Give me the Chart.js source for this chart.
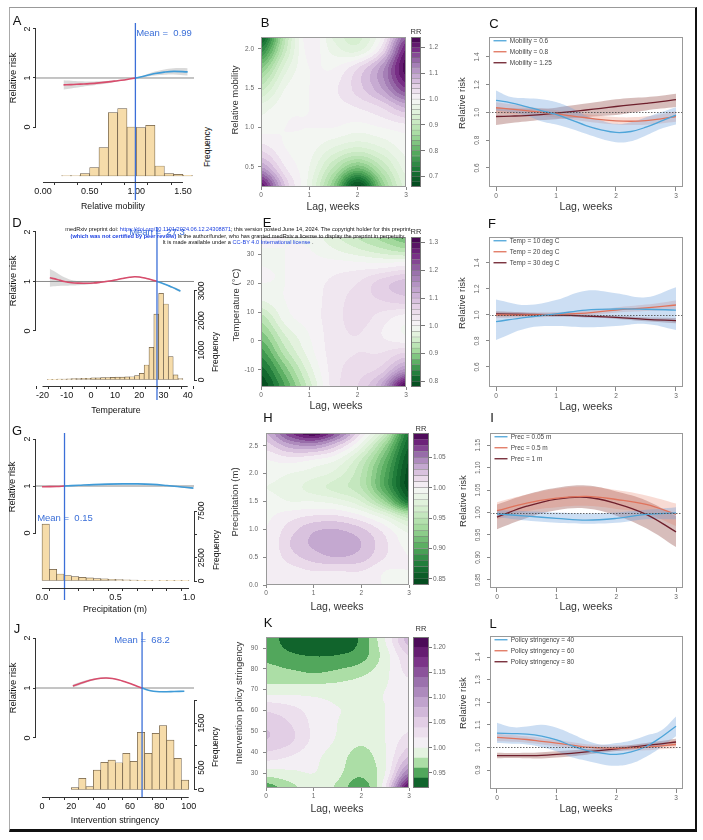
<!DOCTYPE html>
<html>
<head>
<meta charset="utf-8">
<title>Relative risk by exposure and lag</title>
<script src="https://cdn.jsdelivr.net/npm/chart.js@4.4.1/dist/chart.umd.min.js"></script>
<style>
  body { margin: 0; background: #fff; }
  #fig { position: relative; width: 703px; height: 840px; overflow: hidden; background: #fff;
         font-family: "Liberation Sans", Arial, sans-serif; }
  #frame { position: absolute; left: 9px; top: 7px; width: 685px; height: 821px;
           border-top: 1.5px solid #999; border-left: 1px solid #aaa;
           border-right: 2px solid #111; border-bottom: 3px solid #111; }
  .cv { position: absolute; }
  .t { position: absolute; white-space: pre; transform: translate(-50%, -50%); line-height: 1; }
  .r { transform: translate(-50%, -50%) rotate(-90deg); }
  .lk { color: #1a3fe0; }
  .b { font-weight: bold; }
</style>
</head>
<body>
<div id="fig"><div id="frame"></div></div>
<script>
'use strict';

// ---------- data: exposure-response (left column) ----------
const rrTicks = [0, 1, 2];

const mobX = [0.22, 0.3, 0.4, 0.5, 0.6, 0.7, 0.8, 0.9, 0.99, 1.1, 1.2, 1.3, 1.4, 1.55];
const mobRR = [0.86, 0.865, 0.875, 0.885, 0.9, 0.92, 0.945, 0.97, 1.0, 1.045, 1.09, 1.12, 1.135, 1.125];
const mobLo = [0.765, 0.785, 0.815, 0.84, 0.865, 0.895, 0.93, 0.963, 1.0, 1.025, 1.05, 1.065, 1.07, 1.05];
const mobHi = [0.955, 0.945, 0.935, 0.93, 0.935, 0.945, 0.96, 0.977, 1.0, 1.065, 1.13, 1.175, 1.2, 1.2];
const mobMean = 0.99;
const mobBins = [0.25, 0.35, 0.45, 0.55, 0.65, 0.75, 0.85, 0.95, 1.05, 1.15, 1.25, 1.35, 1.45, 1.55];
const mobFreq = [3, 3, 23, 83, 283, 633, 673, 490, 483, 507, 100, 23, 17, 7];
const mobTicks = [0, 0.25, 0.5, 0.75, 1, 1.25, 1.5];
const mobTickLabels = ['0.00', '', '0.50', '', '1.00', '', '1.50'];

const tempX = [-17, -14, -11, -8, -5, -2, 1, 4, 7, 10, 13, 16, 18, 20, 23, 25, 27.3, 30, 33, 35, 37];
const tempRR = [1.075, 1.04, 1.0, 0.975, 0.966, 0.965, 0.97, 0.985, 1.005, 1.03, 1.06, 1.085, 1.095, 1.09, 1.06, 1.035, 1.0, 0.955, 0.895, 0.855, 0.805];
const tempLo = [0.895, 0.91, 0.915, 0.92, 0.926, 0.935, 0.948, 0.968, 0.991, 1.018, 1.048, 1.073, 1.083, 1.08, 1.052, 1.03, 1.0, 0.947, 0.88, 0.835, 0.78];
const tempHi = [1.255, 1.17, 1.085, 1.03, 1.006, 0.995, 0.992, 1.002, 1.019, 1.042, 1.072, 1.097, 1.107, 1.1, 1.068, 1.04, 1.0, 0.963, 0.91, 0.875, 0.83];
const tempMean = 27.3;
const tempBins = [-17, -15, -13, -11, -9, -7, -5, -3, -1, 1, 3, 5, 7, 9, 11, 13, 15, 17, 19, 21, 23, 25, 27, 29, 31, 33, 35, 37];
const tempFreq = [20, 25, 30, 35, 40, 45, 50, 55, 60, 70, 75, 80, 85, 90, 95, 100, 105, 110, 145, 225, 505, 1100, 2220, 2920, 2560, 785, 170, 45];
const tempTicks = [-20, -15, -10, -5, 0, 5, 10, 15, 20, 25, 30, 35, 40];
const tempTickLabels = ['-20', '', '-10', '', '0', '', '10', '', '20', '', '30', '', '40'];
const tempFreqTicks = [0, 1000, 2000, 3000];
const tempFreqLabels = ['0', '1000', '2000', '3000'];

const precX = [0, 0.05, 0.1, 0.153, 0.25, 0.35, 0.45, 0.55, 0.65, 0.75, 0.85, 0.95, 1.03];
const precRR = [0.985, 0.986, 0.99, 1.0, 1.015, 1.03, 1.04, 1.045, 1.045, 1.035, 1.01, 0.98, 0.955];
const precLo = [0.98, 0.982, 0.988, 1.0, 1.012, 1.025, 1.033, 1.037, 1.036, 1.025, 0.998, 0.965, 0.935];
const precHi = [0.99, 0.99, 0.992, 1.0, 1.018, 1.035, 1.047, 1.053, 1.054, 1.045, 1.022, 0.995, 0.975];
const precMean = 0.153;
const precBins = [0.025, 0.075, 0.125, 0.175, 0.225, 0.275, 0.325, 0.375, 0.425, 0.475, 0.525, 0.575, 0.625, 0.675, 0.725, 0.775, 0.825, 0.875, 0.925, 0.975];
const precFreq = [6100, 1250, 750, 570, 470, 400, 330, 260, 220, 180, 150, 120, 100, 80, 65, 50, 40, 35, 30, 25];
const precTicks = [0, 0.1, 0.2, 0.3, 0.4, 0.5, 0.6, 0.7, 0.8, 0.9, 1.0];
const precTickLabels = ['0.0', '', '', '', '', '0.5', '', '', '', '', '1.0'];
const precFreqTicks = [0, 2500, 5000, 7500];
const precFreqLabels = ['0', '2500', '', '7500'];

const strX = [21, 25, 30, 35, 40, 44, 48, 52, 56, 60, 64, 68.2, 72, 76, 80, 85, 90, 97];
const strRR = [1.04, 1.08, 1.13, 1.17, 1.195, 1.2, 1.19, 1.165, 1.13, 1.09, 1.045, 1.0, 0.96, 0.935, 0.925, 0.925, 0.93, 0.935];
const strLo = [1.01, 1.052, 1.106, 1.15, 1.179, 1.187, 1.18, 1.157, 1.124, 1.086, 1.043, 1.0, 0.957, 0.93, 0.918, 0.917, 0.92, 0.923];
const strHi = [1.07, 1.108, 1.154, 1.19, 1.211, 1.213, 1.2, 1.173, 1.136, 1.094, 1.047, 1.0, 0.963, 0.94, 0.932, 0.933, 0.94, 0.947];
const strMean = 68.2;
const strBins = [22.5, 27.5, 32.5, 37.5, 42.5, 47.5, 52.5, 57.5, 62.5, 67.5, 72.5, 77.5, 82.5, 87.5, 92.5, 97.5];
const strFreq = [52, 262, 74, 448, 621, 672, 612, 822, 643, 1293, 822, 1271, 1442, 1121, 710, 224];
const strTicks = [0, 10, 20, 30, 40, 50, 60, 70, 80, 90, 100];
const strTickLabels = ['0', '', '20', '', '40', '', '60', '', '80', '', '100'];
const strFreqTicks = [0, 500, 1000, 1500, 2000];
const strFreqLabels = ['0', '500', '', '1500', ''];

// ---------- data: lag-exposure surfaces (middle column) ----------
const lagCols = [0, 0.5, 1, 1.5, 2, 2.5, 3];
const lagTicks = [0, 1, 2, 3];

const mobRows = [0.25, 0.5, 0.75, 1.0, 1.25, 1.5, 1.75, 2.0, 2.25];
const mobGrid = [
  [1.22, 1.06, 0.97, 0.84, 0.67, 0.84, 0.95],
  [1.10, 1.02, 0.98, 0.90, 0.83, 0.90, 0.97],
  [1.03, 1.0, 0.99, 0.96, 0.94, 0.96, 0.99],
  [0.99, 1.0, 1.0, 1.0, 0.99, 1.0, 1.01],
  [0.97, 0.995, 1.0, 1.01, 1.02, 1.04, 1.08],
  [0.91, 0.98, 1.0, 1.015, 1.05, 1.10, 1.18],
  [0.84, 0.95, 1.0, 1.0, 1.04, 1.11, 1.23],
  [0.74, 0.91, 1.01, 0.97, 0.95, 1.03, 1.20],
  [0.66, 0.89, 1.02, 0.95, 0.93, 0.99, 1.13]
];
const mobYTicks = [0.5, 1.0, 1.5, 2.0];
const mobBarTicks = [0.7, 0.8, 0.9, 1.0, 1.1, 1.2];

const tempRows = [-16, -10, -4, 2, 8, 14, 20, 26, 32, 38];
const tempGrid = [
  [0.78, 0.86, 0.95, 1.03, 1.06, 1.13, 1.32],
  [0.81, 0.89, 0.97, 1.03, 1.05, 1.07, 1.15],
  [0.85, 0.93, 0.99, 1.03, 1.04, 1.04, 1.06],
  [0.89, 0.96, 1.0, 1.03, 1.04, 1.02, 1.0],
  [0.93, 0.99, 1.01, 1.03, 1.05, 1.03, 1.01],
  [0.98, 1.0, 1.01, 1.03, 1.05, 1.06, 1.07],
  [1.0, 1.0, 1.01, 1.025, 1.04, 1.07, 1.09],
  [1.0, 1.0, 1.005, 1.01, 1.01, 1.01, 1.02],
  [1.0, 1.0, 1.0, 0.98, 0.96, 0.94, 0.92],
  [1.0, 1.0, 0.99, 0.96, 0.93, 0.90, 0.87]
];
const tempYTicks = [-10, 0, 10, 20, 30];
const tempBarTicks = [0.8, 0.9, 1.0, 1.1, 1.2, 1.3];

const precRows = [0, 0.25, 0.5, 0.75, 1.0, 1.25, 1.5, 1.75, 2.0, 2.25, 2.5, 2.75];
const precGrid = [
  [1.0, 1.0, 1.0, 1.0, 1.0, 1.0, 1.0],
  [1.0, 1.005, 1.01, 1.01, 1.01, 1.0, 1.0],
  [1.0, 1.015, 1.025, 1.03, 1.025, 1.01, 1.0],
  [1.0, 1.02, 1.032, 1.036, 1.03, 1.012, 0.995],
  [1.0, 1.015, 1.028, 1.03, 1.022, 1.005, 0.985],
  [0.998, 1.005, 1.01, 1.01, 1.0, 0.98, 0.95],
  [0.995, 0.99, 0.99, 0.985, 0.97, 0.93, 0.87],
  [0.99, 0.985, 0.975, 0.965, 0.95, 0.9, 0.845],
  [0.995, 0.99, 0.985, 0.975, 0.95, 0.9, 0.845],
  [1.0, 1.005, 1.0, 0.99, 0.96, 0.91, 0.85],
  [1.015, 1.035, 1.04, 1.02, 0.985, 0.93, 0.86],
  [1.03, 1.07, 1.09, 1.06, 1.01, 0.96, 0.87]
];
const precYTicks = [0, 0.5, 1.0, 1.5, 2.0, 2.5];
const precBarTicks = [0.85, 0.90, 0.95, 1.00, 1.05];

const strRows = [22, 30, 38, 46, 54, 62, 70, 78, 86, 94];
const strGrid = [
  [0.945, 0.97, 0.99, 0.975, 0.945, 1.02, 1.22],
  [0.99, 0.995, 1.0, 0.985, 0.965, 1.0, 1.12],
  [1.03, 1.02, 1.005, 0.99, 0.972, 0.998, 1.06],
  [1.06, 1.045, 1.015, 0.998, 0.985, 1.0, 1.03],
  [1.055, 1.04, 1.015, 1.0, 0.995, 1.0, 1.012],
  [1.03, 1.022, 1.01, 1.0, 1.0, 1.0, 1.005],
  [0.988, 0.99, 0.99, 0.99, 0.995, 1.0, 1.01],
  [0.97, 0.965, 0.96, 0.965, 0.975, 0.995, 1.025],
  [0.955, 0.945, 0.94, 0.942, 0.952, 0.99, 1.04],
  [0.95, 0.93, 0.915, 0.92, 0.945, 1.0, 1.07]
];
const strYTicks = [30, 40, 50, 60, 70, 80, 90];
const strBarTicks = [0.95, 1.00, 1.05, 1.10, 1.15, 1.20];

// ---------- data: lag-response at fixed exposure (right column) ----------
const lagFine = [0, 0.25, 0.5, 0.75, 1, 1.25, 1.5, 1.75, 2, 2.25, 2.5, 2.75, 3];
const lagCoarse = [0, 0.5, 1, 1.5, 2, 2.5, 3];

const mob06 = [1.087, 1.070, 1.043, 1.014, 0.986, 0.947, 0.906, 0.875, 0.856, 0.863, 0.894, 0.937, 0.981];
const mob06Lo = [1.014, 1.002, 0.978, 0.937, 0.913, 0.882, 0.846, 0.810, 0.786, 0.793, 0.834, 0.882, 0.913];
const mob06Hi = [1.159, 1.111, 1.103, 1.096, 1.075, 1.034, 0.978, 0.942, 0.918, 0.930, 0.966, 1.002, 1.038];
const mob08 = [1.034, 1.024, 1.014, 1.002, 0.990, 0.976, 0.962, 0.949, 0.940, 0.937, 0.942, 0.954, 0.971];
const mob08Lo = [0.994, 0.989, 0.984, 0.974, 0.963, 0.949, 0.935, 0.922, 0.913, 0.909, 0.912, 0.921, 0.933];
const mob08Hi = [1.074, 1.059, 1.044, 1.030, 1.017, 1.003, 0.989, 0.976, 0.967, 0.965, 0.972, 0.987, 1.009];
const mob125 = [0.971, 0.974, 0.978, 0.985, 0.995, 1.006, 1.018, 1.030, 1.043, 1.055, 1.066, 1.078, 1.092];
const mob125Lo = [0.91, 0.925, 0.935, 0.945, 0.952, 0.958, 0.968, 0.975, 0.982, 0.998, 1.015, 1.028, 1.04];
const mob125Hi = [1.035, 1.03, 1.028, 1.028, 1.035, 1.05, 1.065, 1.08, 1.095, 1.105, 1.11, 1.12, 1.135];

const temp10 = [0.949, 0.982, 1.008, 1.038, 1.046, 1.044, 1.038];
const temp10Lo = [0.808, 0.897, 0.915, 0.905, 0.915, 0.931, 0.885];
const temp10Hi = [1.12, 1.077, 1.115, 1.187, 1.167, 1.136, 1.213];
const temp20 = [1.0, 1.0, 1.005, 1.015, 1.038, 1.055, 1.077];
const temp20Lo = [0.975, 0.98, 0.987, 0.997, 1.018, 1.03, 1.042];
const temp20Hi = [1.025, 1.02, 1.023, 1.033, 1.058, 1.08, 1.112];
const temp30 = [1.008, 1.005, 1.0, 0.992, 0.982, 0.967, 0.956];
const temp30Lo = [0.988, 0.99, 0.988, 0.98, 0.97, 0.952, 0.936];
const temp30Hi = [1.028, 1.02, 1.012, 1.004, 0.994, 0.982, 0.976];

const prec005 = [0.997, 0.992, 0.987, 0.983, 0.987, 0.996, 0.999];
const prec005Lo = [0.99, 0.982, 0.977, 0.975, 0.977, 0.985, 0.985];
const prec005Hi = [1.005, 1.003, 1.0, 0.998, 1.0, 1.006, 1.012];
const prec05 = [1.004, 1.021, 1.032, 1.036, 1.029, 1.018, 0.996];
const prec05Lo = [0.985, 1.003, 1.012, 1.015, 1.008, 0.998, 0.97];
const prec05Hi = [1.023, 1.04, 1.053, 1.058, 1.05, 1.038, 1.02];
const prec1 = [0.99, 1.014, 1.03, 1.034, 1.02, 0.996, 0.957];
const prec1Lo = [0.963, 0.988, 1.005, 1.009, 0.993, 0.965, 0.923];
const prec1Hi = [1.018, 1.04, 1.055, 1.06, 1.047, 1.027, 0.992];

const str40 = [1.063, 1.061, 1.059, 1.05, 1.033, 1.008, 0.987, 0.975, 0.969, 0.98, 1.004, 1.045, 1.094];
const str40Lo = [1.019, 1.016, 1.013, 1.001, 0.983, 0.956, 0.941, 0.926, 0.919, 0.929, 0.959, 1.001, 1.05];
const str40Hi = [1.109, 1.09, 1.092, 1.1, 1.087, 1.06, 1.031, 1.013, 1.019, 1.031, 1.053, 1.075, 1.137];
const str60 = [1.044, 1.04, 1.035, 1.027, 1.019, 1.01, 1.001, 0.998, 0.997, 0.998, 1.001, 1.007, 1.013];
const str60Lo = [1.027, 1.025, 1.021, 1.013, 1.005, 0.996, 0.988, 0.985, 0.984, 0.985, 0.987, 0.992, 0.996];
const str60Hi = [1.061, 1.055, 1.049, 1.041, 1.033, 1.024, 1.014, 1.011, 1.01, 1.011, 1.015, 1.022, 1.03];
const str80 = [0.964, 0.964, 0.964, 0.965, 0.969, 0.974, 0.98, 0.987, 0.994, 1.001, 1.009, 1.016, 1.024];
const str80Lo = [0.952, 0.953, 0.952, 0.951, 0.955, 0.961, 0.968, 0.976, 0.984, 0.991, 0.998, 1.004, 1.01];
const str80Hi = [0.976, 0.975, 0.976, 0.979, 0.983, 0.987, 0.992, 0.998, 1.004, 1.011, 1.02, 1.028, 1.038];

const ticks06 = [0.6, 0.8, 1.0, 1.2, 1.4];
const ticksPrec = [0.85, 0.90, 0.95, 1.00, 1.05, 1.10, 1.15];
const ticksStr = [0.9, 1.0, 1.1, 1.2, 1.3, 1.4];

// ---------- styling ----------
const RR_LOW = '#d84c6c';
const RR_HIGH = '#3f9bd8';
const MEAN_BLUE = '#3b6fd8';
const WHEAT = '#f6dcaa';
const LINE_COLORS = ['#4ea5d9', '#e0735c', '#6e1f2c'];
const BAND_FILLS = ['rgba(110,160,220,0.35)', 'rgba(230,125,100,0.28)', 'rgba(130,50,45,0.32)'];
const GREENS = ['#f7f7f7', '#d9f0d3', '#a6dba0', '#5aae61', '#1b7837', '#00441b'];
const PURPLES = ['#f7f7f7', '#e7d4e8', '#c2a5cf', '#9970ab', '#762a83', '#40004b'];
const FONT = '"Liberation Sans", Arial, sans-serif';

Chart.defaults.font.family = FONT;
Chart.defaults.animation = false;
Chart.defaults.responsive = false;
Chart.defaults.events = [];
Chart.defaults.plugins.legend.display = false;
Chart.defaults.plugins.tooltip.enabled = false;

const fig = document.getElementById('fig');

function canvasAt(x, y, w, h) {
  const c = document.createElement('canvas');
  c.className = 'cv';
  c.width = w; c.height = h;
  c.style.left = x + 'px'; c.style.top = y + 'px';
  c.style.width = w + 'px'; c.style.height = h + 'px';
  fig.appendChild(c);
  return c;
}

function label(text, x, y, size, opt = {}) {
  const d = document.createElement('div');
  d.className = 't' + (opt.rot ? ' r' : '');
  d.style.left = x + 'px'; d.style.top = y + 'px';
  d.style.fontSize = size + 'px';
  d.style.color = opt.color || '#111';
  d.textContent = text;
  fig.appendChild(d);
}

const fixSize = px => s => {
  if (s.isHorizontal()) s.height = px; else s.width = px;
  s.paddingLeft = s.paddingRight = s.paddingTop = s.paddingBottom = 0;
};
const ticksAt = vals => s => { s.ticks = vals.map(v => ({ value: v })); };

function hexRgb(h) { return [1, 3, 5].map(i => parseInt(h.slice(i, i + 2), 16)); }
function mix(pal, t) {
  t = Math.max(0, Math.min(1, t)) * (pal.length - 1);
  const i = Math.min(pal.length - 2, Math.floor(t)), f = t - i;
  const a = hexRgb(pal[i]), b = hexRgb(pal[i + 1]);
  return 'rgb(' + a.map((v, k) => Math.round(v + (b[k] - v) * f)).join(',') + ')';
}
function steps(lo, hi, step) {
  const out = [];
  for (let v = lo; v <= hi + step / 2; v += step) out.push(+v.toFixed(4));
  return out;
}
function bandColors(levels) {
  const lo = levels[0], hi = levels[levels.length - 1];
  return levels.slice(0, -1).map((v, i) => {
    const m = (v + levels[i + 1]) / 2;
    return m < 1 ? mix(GREENS, (1 - m) / (1 - lo)) : mix(PURPLES, (m - 1) / (hi - 1));
  });
}

// smooth surface through the grid (Catmull-Rom both ways)
function cr(p0, p1, p2, p3, t) {
  return p1 + 0.5 * t * (p2 - p0 + t * (2 * p0 - 5 * p1 + 4 * p2 - p3 + t * (3 * (p1 - p2) + p3 - p0)));
}
function surf(cols, rows, z, cx, ry) {
  const pos = (arr, v) => {
    const f = (v - arr[0]) / (arr[1] - arr[0]);
    const i = Math.max(0, Math.min(arr.length - 2, Math.floor(f)));
    return [i, Math.max(0, Math.min(1, f - i))];
  };
  const [i, tx] = pos(cols, cx), [j, ty] = pos(rows, ry);
  const c = k => Math.max(0, Math.min(cols.length - 1, k));
  const r = k => Math.max(0, Math.min(rows.length - 1, k));
  const rowAt = jj => { const R = z[r(jj)]; return cr(R[c(i - 1)], R[c(i)], R[c(i + 1)], R[c(i + 2)], tx); };
  return cr(rowAt(j - 1), rowAt(j), rowAt(j + 1), rowAt(j + 2), ty);
}

// R-like decorations: partial axis lines, rotated labels, reference lines, box
const rStyle = {
  id: 'rStyle',
  beforeDatasetsDraw(chart, args, o) {
    const { ctx, chartArea: a } = chart;
    if (o.hline !== undefined) {
      const y = chart.scales.y.getPixelForValue(o.hline);
      ctx.save();
      ctx.strokeStyle = '#8a8a8a'; ctx.lineWidth = 1;
      ctx.beginPath(); ctx.moveTo(a.left, y); ctx.lineTo(a.right, y); ctx.stroke();
      ctx.restore();
    }
    if (o.surface) {
      const { x, y } = chart.scales;
      const s = o.surface;
      const n = s.levels.length - 1, lo = s.levels[0], step = s.levels[1] - s.levels[0];
      const top = Math.round(a.top), bot = Math.round(a.bottom);
      for (let px = Math.round(a.left); px < Math.round(a.right); px++) {
        const lag = x.getValueForPixel(px + 0.5);
        let runStart = top, runBand = -1;
        for (let py = top; py <= bot; py++) {
          let band = -2;
          if (py < bot) {
            const v = surf(s.cols, s.rows, s.z, lag, y.getValueForPixel(py + 0.5));
            band = Math.max(0, Math.min(n - 1, Math.floor((v - lo) / step)));
          }
          if (band !== runBand) {
            if (runBand >= 0) { ctx.fillStyle = s.colors[runBand]; ctx.fillRect(px, runStart, 1, py - runStart); }
            runBand = band; runStart = py;
          }
        }
      }
    }
  },
  afterDatasetsDraw(chart, args, o) {
    const { ctx, chartArea: a } = chart;
    ctx.save();
    if (o.dotted !== undefined) {
      const y = Math.round(chart.scales.y.getPixelForValue(o.dotted)) + 0.5;
      ctx.strokeStyle = '#444'; ctx.lineWidth = 0.8; ctx.setLineDash([1.5, 1.5]);
      ctx.beginPath(); ctx.moveTo(a.left, y); ctx.lineTo(a.right, y); ctx.stroke();
      ctx.setLineDash([]);
    }
    if (o.mean !== undefined) {
      const x = chart.scales.x.getPixelForValue(o.mean);
      ctx.strokeStyle = MEAN_BLUE; ctx.lineWidth = 1.3;
      ctx.beginPath(); ctx.moveTo(x, a.top); ctx.lineTo(x, a.bottom + (o.meanExt || 0)); ctx.stroke();
    }
    if (o.box) {
      ctx.strokeStyle = o.boxColor || '#8c8c8c'; ctx.lineWidth = 1;
      ctx.strokeRect(a.left + 0.5, a.top + 0.5, a.right - a.left - 1, a.bottom - a.top - 1);
    }
    (o.lines || []).forEach(id => {
      const s = chart.scales[id];
      const t = s.ticks;
      if (!t.length) return;
      const p0 = s.getPixelForValue(t[0].value), p1 = s.getPixelForValue(t[t.length - 1].value);
      ctx.strokeStyle = '#333'; ctx.lineWidth = 1;
      ctx.beginPath();
      if (s.isHorizontal()) { ctx.moveTo(p0, s.top + 0.5); ctx.lineTo(p1, s.top + 0.5); }
      else {
        const x = s.options.position === 'right' ? s.left + 0.5 : s.right - 0.5;
        ctx.moveTo(x, p0); ctx.lineTo(x, p1);
      }
      ctx.stroke();
    });
    (o.rot || []).forEach(r => {
      const s = chart.scales[r.id];
      ctx.font = r.size + 'px ' + FONT;
      ctx.fillStyle = r.color || '#111';
      ctx.textAlign = 'center'; ctx.textBaseline = 'middle';
      const x = s.options.position === 'right' ? s.left + r.off : s.right - r.off;
      s.ticks.forEach((t, i) => {
        if (!r.labels[i]) return;
        ctx.save();
        ctx.translate(x, s.getPixelForValue(t.value));
        ctx.rotate(-Math.PI / 2);
        ctx.fillText(r.labels[i], 0, 0);
        ctx.restore();
      });
    });
    ctx.restore();
  }
};
Chart.register(rStyle);

const tickGrid = (len, color) => ({ drawOnChartArea: false, drawTicks: true, tickLength: len, color });

// ---------- left column: exposure-response with histogram ----------
function exposurePanel(p) {
  const a = p.area;
  const rightW = p.fTicks ? 20 : 0;
  const cv = canvasAt(a.l - 36, a.t - 4, a.r - a.l + 36 + rightW + 6, a.b - a.t + 4 + 18);
  const pts = ys => p.xs.map((x, i) => ({ x, y: ys[i] }));
  const curve = pts(p.rr);
  const rot = [{ id: 'y', labels: rrTicks.map(String), off: 8, size: 9 }];
  if (p.fTicks) rot.push({ id: 'y2', labels: p.fLabels, off: 8, size: 8.5 });
  new Chart(cv, {
    type: 'line',
    data: {
      datasets: [
        { data: curve.filter(d => d.x <= p.mean), borderColor: RR_LOW, borderWidth: 1.6, pointRadius: 0, tension: 0.4, fill: false, order: 0 },
        { data: curve.filter(d => d.x >= p.mean), borderColor: RR_HIGH, borderWidth: 1.6, pointRadius: 0, tension: 0.4, fill: false, order: 0 },
        { data: pts(p.lo), borderWidth: 0, pointRadius: 0, tension: 0.4, fill: false, order: 1 },
        { data: pts(p.hi), borderWidth: 0, pointRadius: 0, tension: 0.4, fill: '-1', backgroundColor: 'rgba(150,150,150,0.35)', order: 1 },
        { type: 'bar', yAxisID: 'y2', data: p.bins.map((b, i) => ({ x: b, y: p.freq[i] })),
          backgroundColor: WHEAT, borderColor: '#6b5b45', borderWidth: 0.7, borderSkipped: false,
          barPercentage: 1, categoryPercentage: 1, order: 2 }
      ]
    },
    options: {
      layout: { padding: { top: 4, right: 6, left: 0, bottom: 0 } },
      scales: {
        x: { type: 'linear', min: p.xMin, max: p.xMax, offset: false, bounds: 'data',
             afterBuildTicks: ticksAt(p.xTicks), afterFit: fixSize(18),
             grid: tickGrid(3, '#333'), border: { display: false },
             ticks: { autoSkip: false, maxRotation: 0, font: { size: 9 }, color: '#111', padding: 1,
                      callback: (v, i) => p.xLabels[i] } },
        y: { min: p.rrMin, max: p.rrMax, bounds: 'data', afterBuildTicks: ticksAt(rrTicks), afterFit: fixSize(36),
             grid: tickGrid(3, '#333'), border: { display: false }, ticks: { display: false } },
        y2: { display: !!p.fTicks, position: 'right', min: p.fMin, max: p.fMax, bounds: 'data',
              afterBuildTicks: ticksAt(p.fTicks || []), afterFit: fixSize(rightW),
              grid: tickGrid(3, '#333'), border: { display: false }, ticks: { display: false } }
      },
      plugins: {
        rStyle: { hline: 1, mean: p.mean, meanExt: p.meanExt,
                  lines: p.fTicks ? ['x', 'y', 'y2'] : ['x', 'y'], rot }
      }
    }
  });
}

// ---------- middle column: lag-exposure surface + colour key ----------
function surfacePanel(p) {
  const a = p.area;
  const cv = canvasAt(a.l - 24, a.t - 4, a.r - a.l + 24 + 4, a.b - a.t + 4 + 14);
  const levels = steps(p.lo, p.hi, p.step);
  const colors = bandColors(levels);
  const tickFont = { size: 6.5 };
  new Chart(cv, {
    type: 'scatter',
    data: { datasets: [] },
    options: {
      layout: { padding: { top: 4, right: 4, left: 0, bottom: 0 } },
      scales: {
        x: { type: 'linear', min: 0, max: 3, bounds: 'data', afterBuildTicks: ticksAt(lagTicks), afterFit: fixSize(14),
             grid: tickGrid(3, '#888'), border: { display: false },
             ticks: { autoSkip: false, maxRotation: 0, font: tickFont, color: '#666', padding: 1.5, callback: v => String(v) } },
        y: { min: p.yMin, max: p.yMax, bounds: 'data', afterBuildTicks: ticksAt(p.yTicks), afterFit: fixSize(24),
             grid: tickGrid(3, '#888'), border: { display: false },
             ticks: { autoSkip: false, font: tickFont, color: '#666', padding: p.yPad,
                      callback: v => p.yFmt(v) } }
      },
      plugins: {
        rStyle: { box: true, boxColor: '#999', surface: { cols: lagCols, rows: p.rows, z: p.z, levels, colors } }
      }
    }
  });

  const b = p.bar;
  const cb = canvasAt(b.l, b.t - 4, b.r - b.l + 26, b.b - b.t + 8);
  new Chart(cb, {
    type: 'bar',
    data: {
      labels: ['RR'],
      datasets: colors.map((c, i) => ({
        data: [[levels[i], levels[i + 1]]], backgroundColor: c,
        borderColor: p.barLines ? 'rgba(70,70,70,0.55)' : c, borderWidth: 0.5, borderSkipped: false,
        grouped: false, barPercentage: 1, categoryPercentage: 1
      }))
    },
    options: {
      layout: { padding: { top: 4, bottom: 4, left: 0, right: 0 } },
      scales: {
        x: { display: false },
        y: { position: 'right', min: p.lo, max: p.hi, bounds: 'data', afterBuildTicks: ticksAt(p.barTicks), afterFit: fixSize(26),
             grid: tickGrid(p.barTick, '#777'), border: { display: false },
             ticks: { autoSkip: false, font: tickFont, color: '#666', padding: p.barPad, callback: v => p.barFmt(v) } }
      },
      plugins: { rStyle: { box: true, boxColor: '#777' } }
    }
  });
}

// ---------- right column: lag-response curves ----------
function lagPanel(p) {
  const a = p.area;
  const cv = canvasAt(a.l - 24, a.t - 4, a.r - a.l + 24 + 4, a.b - a.t + 4 + 14);
  const pts = ys => p.lags.map((x, i) => ({ x, y: ys[i] }));
  const datasets = [];
  p.series.forEach((s, k) => {
    datasets.push({ data: pts(s.lo), borderWidth: 0, pointRadius: 0, tension: 0.4, fill: false, order: 1 });
    datasets.push({ data: pts(s.hi), borderWidth: 0, pointRadius: 0, tension: 0.4, fill: '-1', backgroundColor: BAND_FILLS[k], order: 1 });
  });
  p.series.forEach((s, k) => {
    datasets.push({ label: s.name, data: pts(s.rr), borderColor: LINE_COLORS[k], backgroundColor: LINE_COLORS[k],
                    borderWidth: 1.3, pointRadius: 0, tension: 0.4, fill: false, order: 0 });
  });
  new Chart(cv, {
    type: 'line',
    data: { datasets },
    options: {
      layout: { padding: { top: 4, right: 4, left: 0, bottom: 0 } },
      scales: {
        x: { type: 'linear', min: -0.117, max: 3.117, bounds: 'data', afterBuildTicks: ticksAt(lagTicks), afterFit: fixSize(14),
             grid: tickGrid(4, '#888'), border: { display: false },
             ticks: { autoSkip: false, maxRotation: 0, font: { size: 6.5 }, color: '#666', padding: 1, callback: v => String(v) } },
        y: { min: p.yMin, max: p.yMax, bounds: 'data', afterBuildTicks: ticksAt(p.yTicks), afterFit: fixSize(24),
             grid: tickGrid(3, '#888'), border: { display: false }, ticks: { display: false } }
      },
      plugins: {
        legend: { display: true, position: 'chartArea', align: 'start',
                  labels: { usePointStyle: true, pointStyle: 'line', pointStyleWidth: 13, font: { size: 6.5 },
                            color: '#444', padding: 4.5,
                            filter: (item, data) => !!data.datasets[item.datasetIndex].label } },
        rStyle: { box: true, boxColor: '#999', dotted: 1,
                  rot: [{ id: 'y', labels: p.yTicks.map(p.yFmt), off: 12, size: 6.5, color: '#666' }] }
      }
    }
  });
}

const f1 = v => v.toFixed(1);
const f2 = v => v.toFixed(2);

// row 1 – mobility
exposurePanel({ area: { l: 36, t: 23, r: 194, b: 182 }, xMin: -0.075, xMax: 1.618, xTicks: mobTicks, xLabels: mobTickLabels,
  rrMin: -1.122, rrMax: 2.122, fMin: -60, fMax: 1530, fTicks: null,
  xs: mobX, rr: mobRR, lo: mobLo, hi: mobHi, mean: mobMean, meanExt: 18, bins: mobBins, freq: mobFreq });
surfacePanel({ area: { l: 261, t: 37, r: 406, b: 187 }, yMin: 0.245, yMax: 2.15, yTicks: mobYTicks, yFmt: f1, yPad: 4,
  rows: mobRows, z: mobGrid, lo: 0.66, hi: 1.24, step: 0.02,
  bar: { l: 411, t: 37, r: 421, b: 187 }, barTicks: mobBarTicks, barFmt: f1, barTick: 4, barPad: 4, barLines: true });
lagPanel({ area: { l: 489, t: 37, r: 683, b: 187 }, yMin: 0.463, yMax: 1.544, yTicks: ticks06, yFmt: f1, lags: lagFine,
  series: [
    { name: 'Mobility = 0.6', rr: mob06, lo: mob06Lo, hi: mob06Hi },
    { name: 'Mobility = 0.8', rr: mob08, lo: mob08Lo, hi: mob08Hi },
    { name: 'Mobility = 1.25', rr: mob125, lo: mob125Lo, hi: mob125Hi }
  ] });

// row 2 – temperature
exposurePanel({ area: { l: 36, t: 227, r: 194, b: 386 }, xMin: -22.7, xMax: 42.6, xTicks: tempTicks, xLabels: tempTickLabels,
  rrMin: -1.111, rrMax: 2.1, fMin: -202, fMax: 5152, fTicks: tempFreqTicks, fLabels: tempFreqLabels,
  xs: tempX, rr: tempRR, lo: tempLo, hi: tempHi, mean: tempMean, meanExt: 14, bins: tempBins, freq: tempFreq });
surfacePanel({ area: { l: 261, t: 237, r: 406, b: 387 }, yMin: -15.9, yMax: 35.9, yTicks: tempYTicks, yFmt: v => String(v), yPad: 4,
  rows: tempRows, z: tempGrid, lo: 0.78, hi: 1.32, step: 0.02,
  bar: { l: 411, t: 237, r: 421, b: 387 }, barTicks: tempBarTicks, barFmt: f1, barTick: 4, barPad: 4, barLines: true });
lagPanel({ area: { l: 489, t: 237, r: 683, b: 387 }, yMin: 0.446, yMax: 1.6, yTicks: ticks06, yFmt: f1, lags: lagCoarse,
  series: [
    { name: 'Temp = 10 deg C', rr: temp10, lo: temp10Lo, hi: temp10Hi },
    { name: 'Temp = 20 deg C', rr: temp20, lo: temp20Lo, hi: temp20Hi },
    { name: 'Temp = 30 deg C', rr: temp30, lo: temp30Lo, hi: temp30Hi }
  ] });

// row 3 – precipitation
exposurePanel({ area: { l: 36, t: 433, r: 194, b: 588 }, xMin: -0.041, xMax: 1.034, xTicks: precTicks, xLabels: precTickLabels,
  rrMin: -1.17, rrMax: 2.128, fMin: -750, fMax: 15860, fTicks: precFreqTicks, fLabels: precFreqLabels,
  xs: precX, rr: precRR, lo: precLo, hi: precHi, mean: precMean, meanExt: 12, bins: precBins, freq: precFreq });
surfacePanel({ area: { l: 266, t: 433, r: 409, b: 585 }, yMin: 0, yMax: 2.73, yTicks: precYTicks, yFmt: f1, yPad: 5,
  rows: precRows, z: precGrid, lo: 0.84, hi: 1.09, step: 0.01,
  bar: { l: 413, t: 433, r: 429, b: 585 }, barTicks: precBarTicks, barFmt: f2, barTick: 3, barPad: 1, barLines: true });
lagPanel({ area: { l: 490, t: 433, r: 683, b: 588 }, yMin: 0.832, yMax: 1.177, yTicks: ticksPrec, yFmt: f2, lags: lagCoarse,
  series: [
    { name: 'Prec = 0.05 m', rr: prec005, lo: prec005Lo, hi: prec005Hi },
    { name: 'Prec = 0.5 m', rr: prec05, lo: prec05Lo, hi: prec05Hi },
    { name: 'Prec = 1 m', rr: prec1, lo: prec1Lo, hi: prec1Hi }
  ] });

// row 4 – policy stringency
exposurePanel({ area: { l: 36, t: 632, r: 194, b: 797 }, xMin: -4.09, xMax: 103.6, xTicks: strTicks, xLabels: strTickLabels,
  rrMin: -1.18, rrMax: 2.12, fMin: -157, fMax: 3543, fTicks: strFreqTicks, fLabels: strFreqLabels,
  xs: strX, rr: strRR, lo: strLo, hi: strHi, mean: strMean, meanExt: 0, bins: strBins, freq: strFreq });
surfacePanel({ area: { l: 266, t: 637, r: 409, b: 788 }, yMin: 22.8, yMax: 95.3, yTicks: strYTicks, yFmt: v => String(v), yPad: 5,
  rows: strRows, z: strGrid, lo: 0.92, hi: 1.22, step: 0.02,
  bar: { l: 413, t: 637, r: 429, b: 788 }, barTicks: strBarTicks, barFmt: f2, barTick: 3, barPad: 1, barLines: false });
lagPanel({ area: { l: 490, t: 636, r: 683, b: 789 }, yMin: 0.816, yMax: 1.493, yTicks: ticksStr, yFmt: f1, lags: lagFine,
  series: [
    { name: 'Policy stringency = 40', rr: str40, lo: str40Lo, hi: str40Hi },
    { name: 'Policy stringency = 60', rr: str60, lo: str60Lo, hi: str60Hi },
    { name: 'Policy stringency = 80', rr: str80, lo: str80Lo, hi: str80Hi }
  ] });

// ---------- text ----------
[['A', 17, 20], ['B', 265, 22], ['C', 494, 23], ['D', 17, 222], ['E', 267, 222], ['F', 492, 223],
 ['G', 17, 430], ['H', 268, 417], ['I', 492, 417], ['J', 17, 628], ['K', 268, 622], ['L', 493, 623]]
  .forEach(([t, x, y]) => label(t, x, y, 13));

label('Mean =  ' + mobMean.toFixed(2), 164, 33, 9.5, { color: MEAN_BLUE });
label('Mean =  ' + tempMean.toFixed(1), 157, 232, 9.5, { color: MEAN_BLUE });
label('Mean =  ' + precMean.toFixed(2), 65, 518, 9.5, { color: MEAN_BLUE });
label('Mean =  ' + strMean.toFixed(1), 142, 640, 9.5, { color: MEAN_BLUE });

[['Relative risk', 14, 78], ['Relative risk', 14, 281], ['Relative risk', 13, 487], ['Relative risk', 14, 688]]
  .forEach(([t, x, y]) => label(t, x, y, 9.3, { rot: true }));
[['Frequency', 207, 147], ['Frequency', 215, 352], ['Frequency', 216, 550], ['Frequency', 215, 747]]
  .forEach(([t, x, y]) => label(t, x, y, 8.5, { rot: true }));
label('Relative mobility', 113, 206, 8.8);
label('Temperature', 116, 410, 8.8);
label('Precipitation (m)', 115, 609, 8.8);
label('Intervention stringency', 115, 820, 8.8);

[[333, 206], [586, 206], [336, 405], [586, 406], [337, 606], [586, 606], [337, 808], [586, 808]]
  .forEach(([x, y]) => label('Lag, weeks', x, y, 10.5, { color: '#333' }));
label('Relative mobility', 235, 100, 9.5, { rot: true, color: '#333' });
label('Temperature (\u00B0C)', 236, 305, 9.5, { rot: true, color: '#333' });
label('Precipitation (m)', 235, 502, 9.5, { rot: true, color: '#333' });
label('Intervention policy stringency', 239, 703, 9.5, { rot: true, color: '#333' });
[[462, 103], [462, 303], [463, 501], [463, 703]]
  .forEach(([x, y]) => label('Relative risk', x, y, 9.5, { rot: true, color: '#333' }));
[[416, 32], [416, 232], [421, 429], [421, 629]].forEach(([x, y]) => label('RR', x, y, 7.5, { color: '#333' }));

const note = document.createElement('div');
note.style.cssText = 'position:absolute;left:238px;top:226px;transform:translateX(-50%);font-size:5.6px;' +
  'line-height:6.5px;text-align:center;white-space:nowrap;color:#111;';
note.innerHTML = 'medRxiv preprint doi: <span class="lk">https://doi.org/10.1101/2024.06.12.24308871</span>; ' +
  'this version posted June 14, 2024. The copyright holder for this preprint<br>' +
  '<span class="lk b">(which was not certified by peer review)</span> is the author/funder, who has granted medRxiv ' +
  'a license to display the preprint in perpetuity.<br>' +
  'It is made available under a <span class="lk">CC-BY 4.0 International license</span> .';
fig.appendChild(note);
</script>
</body>
</html>
